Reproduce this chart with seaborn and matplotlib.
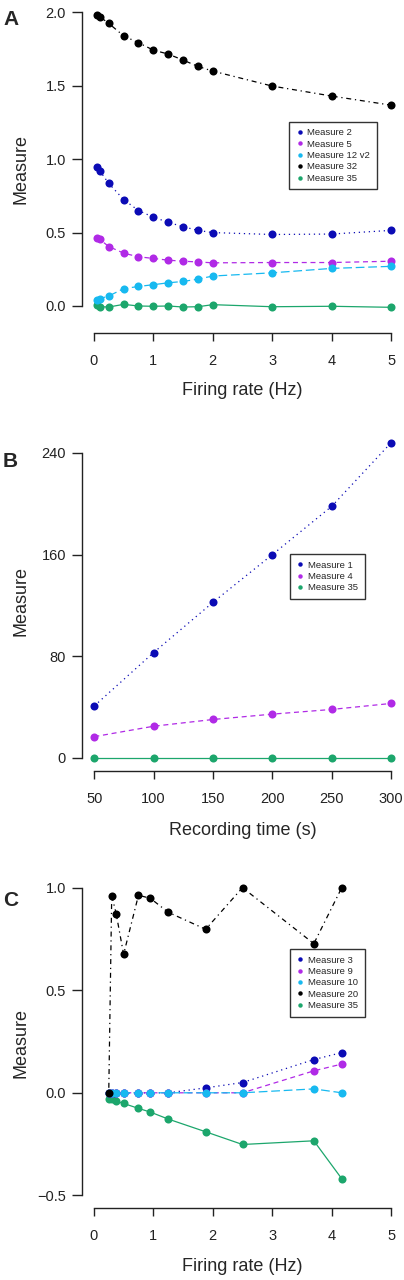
import matplotlib
matplotlib.use("Agg")
import matplotlib.pyplot as plt
from matplotlib.lines import Line2D
import seaborn as sns

# ---- data ----
# Panel A: measures vs firing rate
rate_a = [0.05, 0.1, 0.25, 0.5, 0.75, 1, 1.25, 1.5, 1.75, 2, 3, 4, 5]
m2_a = [0.95, 0.92, 0.835, 0.725, 0.65, 0.605, 0.57, 0.54, 0.515, 0.50, 0.487, 0.49, 0.515]
m5_a = [0.466, 0.453, 0.405, 0.36, 0.335, 0.324, 0.312, 0.305, 0.30, 0.294, 0.296, 0.296, 0.305]
m12_a = [0.04, 0.05, 0.068, 0.118, 0.133, 0.145, 0.158, 0.167, 0.183, 0.204, 0.226, 0.256, 0.27]
m32_a = [1.98, 1.97, 1.925, 1.84, 1.793, 1.743, 1.716, 1.675, 1.632, 1.60, 1.498, 1.43, 1.368]
m35_a = [0.005, -0.005, -0.007, 0.011, 0.0, -0.002, 0.0, -0.007, -0.005, 0.009, -0.005, -0.002, -0.009]

# Panel B: measures vs recording time
time_b = [50, 100, 150, 200, 250, 300]
m1_b = [41, 83, 122.5, 160, 198, 248]
m4_b = [16.8, 25, 30.3, 34.5, 38.2, 42.9]
m35_b = [0, 0, 0, 0, 0, 0]

# Panel C: measures vs firing rate
rate_c = [0.25, 0.3, 0.375, 0.5, 0.75, 0.95, 1.25, 1.88, 2.5, 3.7, 4.17]
m3_c = [0, 0, 0, 0, 0, 0, 0, 0.024, 0.05, 0.162, 0.196]
m9_c = [0, 0, 0, 0, 0, 0, 0, 0, 0, 0.107, 0.14]
m10_c = [0, 0, 0, 0, 0, 0, 0, 0, 0, 0.019, 0]
m20_c = [0.0, 0.961, 0.873, 0.675, 0.963, 0.948, 0.88, 0.797, 1.0, 0.727, 1.0]
m35_c = [-0.028, -0.032, -0.041, -0.052, -0.076, -0.094, -0.128, -0.19, -0.252, -0.234, -0.419]

# ---- style ----
sns.set_style("ticks")
plt.rcParams['font.family'] = ['Liberation Sans', 'DejaVu Sans']

BLUE = "#0b0bb5"
MAGENTA = "#b02ae6"
CYAN = "#17b9f0"
BLACK = "#000000"
GREEN = "#1ca66c"

DOTTED = (0, (1, 3))
DASHED = (0, (4, 3))
LONGDASH = (0, (7, 3))
DOTDASH = (0, (1, 3, 4, 3))
SOLID = "-"

W, H = 404, 1280
fig = plt.figure(figsize=(W / 100, H / 100), dpi=100)


def add_axes(left, right, top, bottom):
    # pixel box -> figure fraction
    return fig.add_axes([left / W, 1 - bottom / H, (right - left) / W, (bottom - top) / H])


def draw(ax, x, series, xlim, ylim, xbounds, ybounds, xticks, yticks, ylabels, xlabel, leg_xy):
    # series: (values, colour, linestyle, legend position, label), in drawing order
    for y, col, ls, pos, lab in series:
        sns.lineplot(x=x, y=y, ax=ax, color=col, linestyle=ls, linewidth=0.9,
                     marker='o', markersize=5.8, markeredgewidth=0, sort=False)
    ax.set_xlim(*xlim)
    ax.set_ylim(*ylim)
    sns.despine(ax=ax)
    ax.spines['left'].set_bounds(*ybounds)
    ax.spines['bottom'].set_bounds(*xbounds)
    for s in ('left', 'bottom'):
        ax.spines[s].set_linewidth(1.0)
        ax.spines[s].set_color('#222222')
    ax.set_xticks(xticks)
    ax.set_yticks(yticks)
    ax.set_yticklabels(ylabels)
    ax.tick_params(axis='y', length=7, width=1.0, pad=4.5, labelsize=10.5, colors='#222222')
    ax.tick_params(axis='x', length=6, width=1.0, pad=9, labelsize=10.5, colors='#222222')
    ax.set_xlabel(xlabel, fontsize=13)
    ax.set_ylabel('Measure', fontsize=13)
    ax.yaxis.set_label_coords(-0.165, 0.5)
    ax.xaxis.set_label_coords(0.5, -0.15)
    # legend: points only, in legend order
    order = sorted(series, key=lambda s: s[3])
    handles = [Line2D([], [], linestyle='none', marker='o', markersize=3.2,
                      markeredgewidth=0, color=s[1]) for s in order]
    labels = [s[4] for s in order]
    leg = ax.legend(handles, labels, loc='upper left', bbox_to_anchor=leg_xy,
                    fontsize=6.8, frameon=True, fancybox=False, borderpad=0.7,
                    handlelength=0.8, handletextpad=0.4, labelspacing=0.25,
                    borderaxespad=0)
    leg.get_frame().set_edgecolor('black')
    leg.get_frame().set_linewidth(1.0)


# Panel A
axA = add_axes(82, 403, 4, 333)
draw(axA, rate_a,
     [(m35_a, GREEN, SOLID, 4, 'Measure 35'),
      (m2_a, BLUE, DOTTED, 0, 'Measure 2'),
      (m5_a, MAGENTA, DASHED, 1, 'Measure 5'),
      (m12_a, CYAN, LONGDASH, 2, 'Measure 12 v2'),
      (m32_a, BLACK, DOTDASH, 3, 'Measure 32')],
     xlim=(-0.2, 5.2), ylim=(-0.184, 2.057), xbounds=(0, 5), ybounds=(0, 2.0),
     xticks=[0, 1, 2, 3, 4, 5], yticks=[0, 0.5, 1.0, 1.5, 2.0],
     ylabels=['0.0', '0.5', '1.0', '1.5', '2.0'],
     xlabel='Firing rate (Hz)', leg_xy=(0.646, 0.642))

# Panel B
axB = add_axes(82, 403, 432, 770.7)
draw(axB, time_b,
     [(m35_b, GREEN, SOLID, 2, 'Measure 35'),
      (m1_b, BLUE, DOTTED, 0, 'Measure 1'),
      (m4_b, MAGENTA, DASHED, 1, 'Measure 4')],
     xlim=(39.6, 310.1), ylim=(-10, 256.5), xbounds=(50, 300), ybounds=(0, 240),
     xticks=[50, 100, 150, 200, 250, 300], yticks=[0, 80, 160, 240],
     ylabels=['0', '80', '160', '240'],
     xlabel='Recording time (s)', leg_xy=(0.648, 0.640))

# Panel C
axC = add_axes(82, 403, 878, 1208.3)
draw(axC, rate_c,
     [(m35_c, GREEN, SOLID, 4, 'Measure 35'),
      (m3_c, BLUE, DOTTED, 0, 'Measure 3'),
      (m9_c, MAGENTA, DASHED, 1, 'Measure 9'),
      (m10_c, CYAN, LONGDASH, 2, 'Measure 10'),
      (m20_c, BLACK, DOTDASH, 3, 'Measure 20')],
     xlim=(-0.2, 5.2), ylim=(-0.563, 1.047), xbounds=(0, 5), ybounds=(-0.5, 1.0),
     xticks=[0, 1, 2, 3, 4, 5], yticks=[-0.5, 0, 0.5, 1.0],
     ylabels=['\u22120.5', '0.0', '0.5', '1.0'],
     xlabel='Firing rate (Hz)', leg_xy=(0.648, 0.785))

for letter, ypix in (('A', 10), ('B', 452), ('C', 891)):
    fig.text(3 / W, 1 - ypix / H, letter, fontsize=15, fontweight='bold', va='top', ha='left')

fig.savefig('out.png', dpi=100)
